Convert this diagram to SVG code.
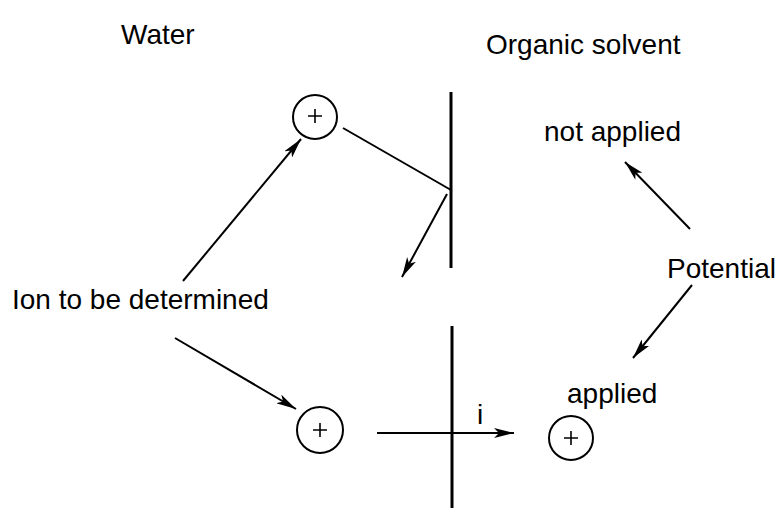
<svg xmlns="http://www.w3.org/2000/svg" width="779" height="508" viewBox="0 0 779 508">
<style>
text{font-family:"Liberation Sans",Arial,sans-serif;font-size:28px;fill:#000}
.ln{stroke:#000;stroke-width:2;fill:none}
.wall{stroke:#000;stroke-width:3;fill:none}
.ion circle{fill:#fff;stroke:#000;stroke-width:2}
.ion path{stroke:#000;stroke-width:1.6;fill:none}
</style>
<defs>
<marker id="ah" viewBox="0 0 20 10" refX="20" refY="5" markerWidth="20" markerHeight="10" markerUnits="userSpaceOnUse" orient="auto">
<path d="M0,0 L20,5 L0,10 L5,5 Z" fill="#000"/>
</marker>
</defs>
<g id="labels">
<text x="121" y="44">Water</text>
<text x="486" y="54">Organic solvent</text>
<text x="544" y="141">not applied</text>
<text x="667" y="278">Potential</text>
<text x="12" y="309">Ion to be determined</text>
<text x="567" y="403">applied</text>
<text x="477" y="424">i</text>
</g>
<g id="interface">
<line class="wall" x1="451" y1="92" x2="451" y2="268"/>
<line class="wall" x1="452" y1="326" x2="452" y2="508"/>
</g>
<g id="ion-top" class="ion"><circle cx="315" cy="117" r="22"/><path d="M308,116 H322 M315,109 V123"/></g>
<g id="ion-bottom" class="ion"><circle cx="320" cy="430" r="23"/><path d="M313,430 H327 M320,423 V437"/></g>
<g id="ion-right" class="ion"><circle cx="571" cy="438" r="22"/><path d="M564,438 H578 M571,431 V445"/></g>
<g id="connectors">
<line class="ln" x1="183" y1="281" x2="301" y2="139" marker-end="url(#ah)"/>
<line class="ln" x1="343" y1="128" x2="451" y2="190"/>
<line class="ln" x1="447" y1="194" x2="402" y2="277" marker-end="url(#ah)"/>
<line class="ln" x1="175" y1="338" x2="296" y2="409" marker-end="url(#ah)"/>
<line class="ln" x1="377" y1="433" x2="514" y2="433" marker-end="url(#ah)"/>
<line class="ln" x1="690" y1="229" x2="625" y2="162" marker-end="url(#ah)"/>
<line class="ln" x1="692" y1="285" x2="633" y2="358" marker-end="url(#ah)"/>
</g>
</svg>
